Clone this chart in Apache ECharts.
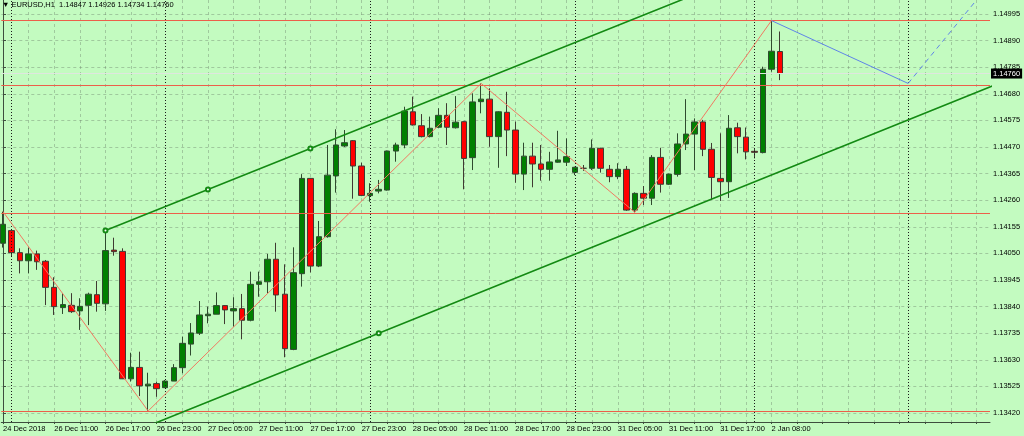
<!DOCTYPE html>
<html>
<head>
<meta charset="utf-8">
<script src="https://cdn.jsdelivr.net/npm/echarts@6/dist/echarts.min.js"></script>
<style>
  html, body { margin: 0; padding: 0; background: #c3fbc0; }
  #main { width: 1024px; height: 436px; }
</style>
</head>
<body>
<div id="main"></div>
<script>
// EURUSD H1, one value per bar (bar index = position on the x axis)
const opens = [
  1.14090, 1.14140, 1.14053, 1.14021, 1.14048, 1.14019, 1.13916, 1.13836, 1.13845, 1.13823,
  1.13845, 1.13887, 1.13851, 1.14063, 1.14058, 1.13555, 1.13600, 1.13527, 1.13536, 1.13520,
  1.13546, 1.13599, 1.13692, 1.13735, 1.13804, 1.13810, 1.13844, 1.13823, 1.13832, 1.13786,
  1.13928, 1.13938, 1.14027, 1.13889, 1.13671, 1.13970, 1.14346, 1.14000, 1.14116, 1.14356,
  1.14474, 1.14495, 1.14395, 1.14278, 1.14296, 1.14300, 1.14454, 1.14478, 1.14609, 1.14554,
  1.14511, 1.14548, 1.14595, 1.14546, 1.14570, 1.14428, 1.14649, 1.14659, 1.14511, 1.14607,
  1.14537, 1.14363, 1.14434, 1.14403, 1.14382, 1.14410, 1.14410, 1.14370, 1.14386, 1.14386,
  1.14465, 1.14382, 1.14353, 1.14382, 1.14221, 1.14287, 1.14268, 1.14429, 1.14323, 1.14362,
  1.14482, 1.14521, 1.14569, 1.14461, 1.14346, 1.14333, 1.14546, 1.14509, 1.14453, 1.14448,
  1.14777, 1.14847
]
const closes = [
  1.14165, 1.14053, 1.14021, 1.14048, 1.14017, 1.13916, 1.13840, 1.13848, 1.13820, 1.13841,
  1.13889, 1.13853, 1.14061, 1.14057, 1.13555, 1.13600, 1.13527, 1.13534, 1.13516, 1.13546,
  1.13599, 1.13695, 1.13736, 1.13807, 1.13810, 1.13844, 1.13827, 1.13832, 1.13786, 1.13928,
  1.13938, 1.14027, 1.13886, 1.13674, 1.13974, 1.14346, 1.14000, 1.14116, 1.14359, 1.14478,
  1.14487, 1.14395, 1.14279, 1.14287, 1.14303, 1.14454, 1.14478, 1.14612, 1.14557, 1.14511,
  1.14544, 1.14595, 1.14548, 1.14568, 1.14425, 1.14648, 1.14659, 1.14511, 1.14609, 1.14537,
  1.14363, 1.14434, 1.14403, 1.14382, 1.14411, 1.14419, 1.14432, 1.14390, 1.14386, 1.14465,
  1.14386, 1.14353, 1.14382, 1.14221, 1.14287, 1.14268, 1.14429, 1.14323, 1.14363, 1.14482,
  1.14521, 1.14569, 1.14461, 1.14350, 1.14333, 1.14544, 1.14511, 1.14451, 1.14449, 1.14777,
  1.14848, 1.14760
]
const lows = [
  1.14073, 1.14037, 1.13971, 1.13971, 1.13985, 1.13846, 1.13807, 1.13811, 1.13815, 1.13748,
  1.13767, 1.13820, 1.13823, 1.14041, 1.13554, 1.13544, 1.13487, 1.13428, 1.13484, 1.13519,
  1.13546, 1.13577, 1.13647, 1.13728, 1.13774, 1.13810, 1.13771, 1.13761, 1.13711, 1.13782,
  1.13879, 1.13893, 1.13820, 1.13640, 1.13668, 1.13919, 1.13975, 1.13996, 1.14112, 1.14290,
  1.14470, 1.14266, 1.14276, 1.14254, 1.14287, 1.14298, 1.14412, 1.14465, 1.14555, 1.14508,
  1.14508, 1.14545, 1.14478, 1.14543, 1.14303, 1.14379, 1.14603, 1.14471, 1.14388, 1.14434,
  1.14329, 1.14300, 1.14311, 1.14337, 1.14337, 1.14408, 1.14395, 1.14359, 1.14376, 1.14379,
  1.14369, 1.14331, 1.14343, 1.14218, 1.14212, 1.14241, 1.14241, 1.14290, 1.14320, 1.14353,
  1.14458, 1.14379, 1.14434, 1.14262, 1.14257, 1.14269, 1.14445, 1.14421, 1.14425, 1.14445,
  1.14767, 1.14734
]
const highs = [
  1.14215, 1.14146, 1.14070, 1.14073, 1.14061, 1.14024, 1.13956, 1.13893, 1.13893, 1.13873,
  1.13895, 1.13941, 1.14140, 1.14112, 1.14070, 1.13658, 1.13662, 1.13579, 1.13544, 1.13550,
  1.13613, 1.13721, 1.13775, 1.13862, 1.13840, 1.13896, 1.13846, 1.13877, 1.13890, 1.13978,
  1.13978, 1.14048, 1.14092, 1.14007, 1.14074, 1.14363, 1.14348, 1.14178, 1.14478, 1.14540,
  1.14537, 1.14497, 1.14408, 1.14327, 1.14340, 1.14456, 1.14487, 1.14629, 1.14669, 1.14600,
  1.14590, 1.14623, 1.14643, 1.14671, 1.14572, 1.14682, 1.14721, 1.14702, 1.14611, 1.14688,
  1.14570, 1.14487, 1.14487, 1.14478, 1.14451, 1.14534, 1.14504, 1.14392, 1.14399, 1.14500,
  1.14467, 1.14399, 1.14406, 1.14395, 1.14291, 1.14316, 1.14438, 1.14467, 1.14365, 1.14524,
  1.14659, 1.14583, 1.14577, 1.14486, 1.14524, 1.14596, 1.14566, 1.14547, 1.14465, 1.14787,
  1.14969, 1.14926
]

// axis labels
const labelBars = [0, 6, 12, 18, 24, 30, 36, 42, 48, 54, 60, 66, 72, 78, 84, 90]
const timeLabels = [
  '24 Dec 2018', '26 Dec 11:00', '26 Dec 17:00', '26 Dec 23:00', '27 Dec 05:00', '27 Dec 11:00',
  '27 Dec 17:00', '27 Dec 23:00', '28 Dec 05:00', '28 Dec 11:00', '28 Dec 17:00', '28 Dec 23:00',
  '31 Dec 05:00', '31 Dec 11:00', '31 Dec 17:00', '2 Jan 08:00'
]
const gridBars = [
  0, 3, 6, 9, 12, 15, 18, 21, 24, 27, 30, 33, 36, 39, 42, 45, 48, 51, 54, 57,
  60, 63, 66, 69, 72, 75, 78, 81, 84, 87, 90, 93, 96, 99, 102, 105, 108, 111, 114
]
const priceTicks = [
  1.13420, 1.13525, 1.13630, 1.13735, 1.13840, 1.13945, 1.14050, 1.14155,
  1.14260, 1.14365, 1.14470, 1.14575, 1.14680, 1.14785, 1.14890, 1.14995
]

// objects on the chart
const separatorBars = [1, 19, 43, 67, 88, 106]
const levelPrices = [1.14969, 1.14712, 1.14208, 1.13427]
const bidPrice = 1.14760
const zigzagBars = [0, 17, 56, 74, 90]
const zigzagPrices = [1.14215, 1.13428, 1.14721, 1.14212, 1.14969]
const projBars = [90, 106]
const projPrices = [1.14969, 1.14721]
const projDashBars = [106, 116]
const projDashPrices = [1.14721, 1.15132]
const upperBars = [12, 24, 36, 116]
const upperPrices = [1.14140, 1.14302, 1.14464, 1.15544]
const upperMarks = [true, true, true, false]
const lowerBars = [8, 44, 116]
const lowerPrices = [1.13247, 1.13735, 1.14713]
const lowerMarks = [false, true, false]

const labelMap = {}
labelBars.forEach((b, i) => { labelMap[b] = timeLabels[i] })

const candles = opens.map((o, i) => [i, o, closes[i], lows[i], highs[i]])
const pairs = (xs, ys) => xs.map((x, i) => [x, ys[i]])
const marked = (xs, ys, flags) => xs.map((x, i) => ({ value: [x, ys[i]], symbol: flags[i] ? 'emptyCircle' : 'none' }))

const bg = '#c3fbc0'
const axisColor = '#3e4e3e'
const levelColor = '#ec5f4a'
const font = 'Liberation Sans'

const chart = echarts.init(document.getElementById('main'))
chart.setOption({
  backgroundColor: bg,
  animation: false,
  title: {
    text: '\u25BC EURUSD,H1  ' + [opens[91], highs[91], lows[91], closes[91]].map(v => v.toFixed(5)).join(' '),
    left: 2,
    top: 1,
    padding: 0,
    textStyle: { fontSize: 7.5, fontWeight: 'normal', color: '#000', fontFamily: font },
  },
  grid: { left: 0, right: 34, top: 0, bottom: 14 },
  xAxis: {
    type: 'value',
    min: -0.2,
    max: 115.59,
    axisLine: { show: true, onZero: false, lineStyle: { color: axisColor } },
    axisTick: { show: true, customValues: gridBars, length: 2, lineStyle: { color: axisColor } },
    axisLabel: {
      customValues: labelBars,
      formatter: v => labelMap[v] || '',
      align: 'left',
      margin: 3,
      fontSize: 7.5,
      color: '#000',
      fontFamily: font,
    },
    splitLine: { show: true, lineStyle: { color: 'rgba(110,130,110,0.42)', type: [3, 3] } },
  },
  yAxis: {
    type: 'value',
    position: 'right',
    min: 1.133845,
    max: 1.150503,
    axisLine: { show: true, lineStyle: { color: axisColor } },
    axisTick: { show: true, customValues: priceTicks, length: 3, lineStyle: { color: axisColor } },
    axisLabel: {
      customValues: priceTicks,
      formatter: v => v.toFixed(5),
      margin: 3,
      fontSize: 7.5,
      color: '#000',
      fontFamily: font,
    },
    splitLine: { show: true, lineStyle: { color: 'rgba(110,130,110,0.42)', type: [3, 3] } },
  },
  series: [
    {
      type: 'candlestick',
      data: candles,
      encode: { x: 0, y: [1, 2, 3, 4] },
      barWidth: 6,
      itemStyle: {
        color: '#008000',
        color0: '#ff0000',
        borderColor: '#2f4a2f',
        borderColor0: '#3f3a32',
        borderWidth: 1,
      },
      markLine: {
        silent: true,
        symbol: ['none', 'none'],
        animation: false,
        data: separatorBars.map(b => ({ xAxis: b, lineStyle: { color: '#1a1a1a', width: 1, type: [1, 2] }, label: { show: false } })),
      },
    },
    {
      // horizontal levels
      type: 'line',
      data: [],
      color: levelColor,
      markLine: {
        silent: true,
        precision: 5,
        symbol: ['none', 'none'],
        animation: false,
        label: { show: false },
        lineStyle: { color: levelColor, width: 1, type: 'solid', opacity: 1 },
        data: levelPrices.map(p => ({ yAxis: p })),
      },
    },
    {
      // bid line
      type: 'line',
      data: [],
      color: '#dfe6df',
      markLine: {
        silent: true,
        precision: 5,
        symbol: ['none', 'none'],
        animation: false,
        lineStyle: { color: '#dfe6df', width: 1, type: 'solid' },
        label: {
          show: true,
          position: 'end',
          distance: 1,
          formatter: bidPrice.toFixed(5),
          backgroundColor: '#000',
          color: '#fff',
          padding: [1, 2, 1, 2],
          fontSize: 7.5,
          fontFamily: font,
        },
        data: [{ yAxis: bidPrice }],
      },
    },
    {
      type: 'line',
      data: pairs(zigzagBars, zigzagPrices),
      symbol: 'none',
      lineStyle: { color: '#f07a62', width: 1 },
      z: 5,
    },
    {
      type: 'line',
      data: pairs(projBars, projPrices),
      symbol: 'none',
      lineStyle: { color: '#5f84e8', width: 1 },
      z: 5,
    },
    {
      type: 'line',
      data: pairs(projDashBars, projDashPrices),
      symbol: 'none',
      lineStyle: { color: '#5f84e8', width: 1, type: [5, 4] },
      z: 5,
    },
    {
      type: 'line',
      data: marked(upperBars, upperPrices, upperMarks),
      symbolSize: 4,
      showAllSymbol: true,
      itemStyle: { color: '#138a13', borderWidth: 1 },
      lineStyle: { color: '#138a13', width: 1.6 },
      z: 6,
    },
    {
      type: 'line',
      data: marked(lowerBars, lowerPrices, lowerMarks),
      symbolSize: 4,
      showAllSymbol: true,
      itemStyle: { color: '#138a13', borderWidth: 1 },
      lineStyle: { color: '#138a13', width: 1.6 },
      z: 6,
    },
  ],
})
</script>
</body>
</html>
